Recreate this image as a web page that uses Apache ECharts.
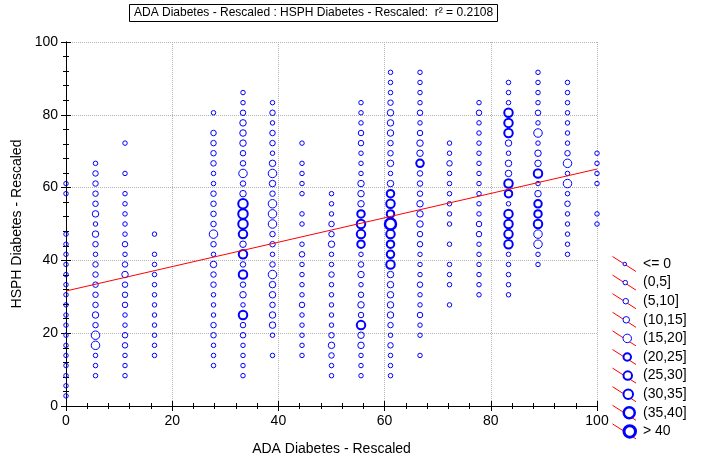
<!DOCTYPE html>
<html><head><meta charset="utf-8">
<script src="https://cdn.jsdelivr.net/npm/echarts@6/dist/echarts.min.js"></script>
<style>html,body{margin:0;padding:0;background:#fff}#c{width:707px;height:460px}</style>
</head><body><div id="c"></div>
<script>
// ---- data ----
// x positions are level/18*100, y positions are level/36*100 (rescaled scores)
const xLevelsPerUnit = 18;
const yLevelsPerUnit = 36;
const colXLevels = [0, 1, 2, 3, 5, 6, 7, 8, 9, 10, 11, 12, 13, 14, 15, 16, 17, 18];
// each column: [yLevel, sizeClass] ; sizeClass 1..10 -> legend bins
const col00 = [[22,2],[21,2],[17,2],[16,2],[15,2],[14,2],[13,2],[12,2],[11,2],[10,2],[9,2],[8,2],[7,2],[6,2],[5,2],[4,2],[3,2],[2,2],[1,2]];
const col01 = [[24,2],[23,3],[22,3],[21,3],[20,3],[19,4],[18,2],[17,4],[16,3],[15,2],[14,3],[13,3],[12,3],[11,3],[10,3],[9,4],[8,3],[7,5],[6,5],[5,2],[4,2],[3,2]];
const col02 = [[26,2],[23,2],[21,2],[20,2],[19,2],[18,2],[17,2],[16,3],[15,2],[14,3],[13,4],[12,3],[11,3],[10,3],[9,2],[8,2],[7,3],[6,3],[5,2],[4,2],[3,2]];
const col03 = [[17,2],[15,2],[14,2],[13,2],[12,2],[11,2],[10,2],[9,2],[8,2],[7,2],[6,2],[5,2]];
const col05 = [[29,2],[27,3],[26,3],[25,3],[24,3],[23,2],[22,2],[21,3],[20,3],[19,3],[18,3],[17,5],[16,3],[15,2],[14,4],[13,3],[12,3],[11,2],[10,2],[9,2],[8,3],[7,3],[6,2],[5,2],[4,2]];
const col06 = [[31,2],[30,2],[29,3],[28,4],[27,4],[26,4],[25,3],[24,3],[23,5],[22,3],[21,4],[20,8],[19,8],[18,8],[17,7],[16,4],[15,7],[14,3],[13,7],[12,3],[11,4],[10,2],[9,7],[8,3],[7,3],[6,2],[5,2],[4,2],[3,2]];
const col07 = [[30,2],[29,3],[28,2],[27,3],[26,3],[25,2],[24,4],[23,5],[22,4],[21,3],[20,5],[19,5],[18,5],[17,3],[16,3],[15,2],[14,3],[13,5],[12,4],[11,4],[10,3],[9,4],[8,4],[7,2],[5,2]];
const col08 = [[26,2],[24,2],[23,2],[22,2],[21,2],[19,2],[18,2],[16,2],[15,3],[14,2],[13,2],[12,2],[11,2],[10,3],[9,2],[8,2],[7,2],[6,2],[5,2]];
const col09 = [[21,2],[20,2],[19,2],[18,3],[17,3],[16,4],[15,2],[14,2],[13,3],[12,2],[11,2],[10,2],[9,2],[8,2],[7,3],[6,4],[5,3],[4,2],[3,2]];
const col10 = [[30,2],[29,2],[28,2],[27,3],[26,3],[25,2],[24,2],[23,2],[22,4],[21,4],[20,4],[19,6],[18,7],[17,7],[16,6],[15,2],[14,3],[13,4],[12,2],[11,3],[10,4],[9,3],[8,7],[7,4],[6,4],[5,2],[4,2],[3,2]];
const col11 = [[33,2],[32,2],[31,2],[30,3],[29,4],[28,4],[27,4],[26,3],[25,3],[24,4],[23,2],[22,4],[21,6],[20,7],[19,6],[18,9],[17,7],[16,6],[15,6],[14,7],[13,4],[12,4],[11,4],[10,4],[9,4],[8,3],[7,2],[6,3],[5,2],[4,2],[3,2]];
const col12 = [[33,2],[32,2],[31,2],[30,2],[29,3],[28,2],[27,3],[26,4],[25,4],[24,6],[23,3],[22,3],[21,3],[20,4],[19,4],[18,4],[17,3],[16,3],[15,2],[14,2],[13,2],[12,3],[11,2],[10,2],[9,3],[8,2],[7,2],[5,2]];
const col13 = [[26,2],[25,2],[24,3],[23,2],[22,2],[21,2],[20,2],[19,2],[18,2],[16,2],[14,2],[13,2],[12,2],[10,2]];
const col14 = [[30,2],[29,3],[28,2],[27,2],[26,2],[25,2],[24,2],[23,2],[22,2],[21,2],[20,2],[19,2],[18,3],[17,3],[16,2],[15,2],[14,2],[13,2],[12,2],[11,2]];
const col15 = [[32,2],[31,2],[30,2],[29,7],[28,7],[27,7],[26,4],[25,2],[24,4],[23,4],[22,7],[21,6],[20,2],[19,7],[18,7],[17,7],[16,7],[15,2],[14,2],[13,2],[12,2],[11,2]];
const col16 = [[33,2],[32,2],[31,2],[30,2],[29,3],[28,2],[27,5],[26,2],[25,4],[24,4],[23,7],[22,2],[21,4],[20,6],[19,6],[18,7],[17,5],[16,5],[15,2],[14,2]];
const col17 = [[32,2],[31,2],[30,2],[29,2],[28,2],[27,2],[26,2],[25,3],[24,5],[23,2],[22,5],[21,2],[20,3],[19,2],[18,2],[17,2],[16,2],[15,2]];
const col18 = [[25,2],[24,2],[23,2],[22,2],[19,2],[18,2]];
const columns = [col00,col01,col02,col03,col05,col06,col07,col08,col09,col10,col11,col12,col13,col14,col15,col16,col17,col18];

const classNames = ['<= 0','(0,5]','(5,10]','(10,15]','(15,20]','(20,25]','(25,30]','(30,35]','(35,40]','> 40'];
const fitX = [0, 100];
const fitY = [31.6, 65.1];
const titleText = 'ADA Diabetes - Rescaled : HSPH Diabetes - Rescaled:  r\u00B2 = 0.2108';
const xName = 'ADA Diabetes - Rescaled';
const yName = 'HSPH Diabetes - Rescaled';

// ---- styles ----
const classSize = [3.5, 4.5, 5.5, 6.5, 8.5, 7.5, 8.5, 9.5, 11, 11.5];
const classBorder = [1, 1, 1, 1, 1, 2, 2, 2, 2.5, 3];
const BLUE = '#0000FF';
const FONT = "'Liberation Sans', Arial, sans-serif";

const chart = echarts.init(document.getElementById('c'));

const perClass = classNames.map(() => []);
columns.forEach((col, i) => {
  const xv = colXLevels[i] * 100 / xLevelsPerUnit;
  col.forEach(([yl, c]) => perClass[c - 1].push([xv, yl * 100 / yLevelsPerUnit]));
});

const series = perClass.map((data, i) => ({
  type: 'scatter', name: classNames[i], data: data, xAxisIndex: 0, yAxisIndex: 0,
  symbol: 'circle', symbolSize: classSize[i], silent: true, animation: false, clip: false,
  itemStyle: { color: 'rgba(0,0,0,0)', borderColor: BLUE, borderWidth: classBorder[i], opacity: 1 }
}));
series.push({
  type: 'line', data: fitX.map((x, i) => [x, fitY[i]]), symbol: 'none', animation: false, silent: true, z: 5,
  lineStyle: { color: '#FF0000', width: 1 }
});

// legend drawn as graphics
const graphics = [];
const legTop = 264, legStep = 18.6;
classNames.forEach((nm, i) => {
  const cy = legTop + i * legStep;
  const outer = classSize[i] + classBorder[i];
  graphics.push({ type: 'line', silent: true, z: 10, shape: { x1: 612.5, y1: cy - 7.5, x2: 636, y2: cy + 7.5 }, style: { stroke: '#FF0000', lineWidth: 1 } });
  graphics.push({ type: 'circle', silent: true, z: 11, shape: { cx: 622.5 + outer / 2, cy: cy, r: classSize[i] / 2 }, style: { fill: '#fff', stroke: BLUE, lineWidth: classBorder[i] } });
  graphics.push({ type: 'text', silent: true, z: 11, x: 643, y: cy, style: { text: nm, fill: '#000', font: '14px ' + FONT, verticalAlign: 'middle', align: 'left' } });
});

const axisCommon = {
  type: 'value', min: 0, max: 100, interval: 20,
  axisLine: { show: true, lineStyle: { color: '#000', width: 1 } },
  axisTick: { show: true, inside: true, length: 5, lineStyle: { color: '#000' } },
  minorTick: { show: true, splitNumber: 5, length: 3, lineStyle: { color: '#000' } },
};

chart.setOption({
  animation: false,
  backgroundColor: '#fff',
  title: {
    text: titleText, left: 129, top: 4,
    padding: [3, 5, 3, 5], borderColor: '#000', borderWidth: 1,
    textStyle: { fontFamily: FONT, fontSize: 12, fontWeight: 'normal', color: '#000' }
  },
  grid: { left: 66, right: 110, top: 42, bottom: 54, containLabel: false, outerBoundsMode: 'none' },
  xAxis: [
    Object.assign({}, axisCommon, {
      position: 'bottom', name: xName, nameLocation: 'middle', nameGap: 36,
      nameTextStyle: { fontFamily: FONT, fontSize: 14, color: '#000' },
      axisLabel: { fontFamily: FONT, fontSize: 14, color: '#000', margin: 8 },
      splitLine: { show: true, lineStyle: { color: '#b4b4b4', type: 'dotted', width: 1 } }
    }),
    Object.assign({}, axisCommon, { position: 'top', axisLabel: { show: false }, splitLine: { show: false } })
  ],
  yAxis: [
    Object.assign({}, axisCommon, {
      position: 'left', name: yName, nameLocation: 'middle', nameGap: 40, nameRotate: 90,
      nameTextStyle: { fontFamily: FONT, fontSize: 14, color: '#000' },
      axisLabel: { fontFamily: FONT, fontSize: 14, color: '#000', margin: 8 },
      splitLine: { show: true, lineStyle: { color: '#b4b4b4', type: 'dotted', width: 1 } }
    }),
    Object.assign({}, axisCommon, { position: 'right', axisLabel: { show: false }, splitLine: { show: false } })
  ],
  series: series,
  graphic: graphics
});
</script>
</body></html>
